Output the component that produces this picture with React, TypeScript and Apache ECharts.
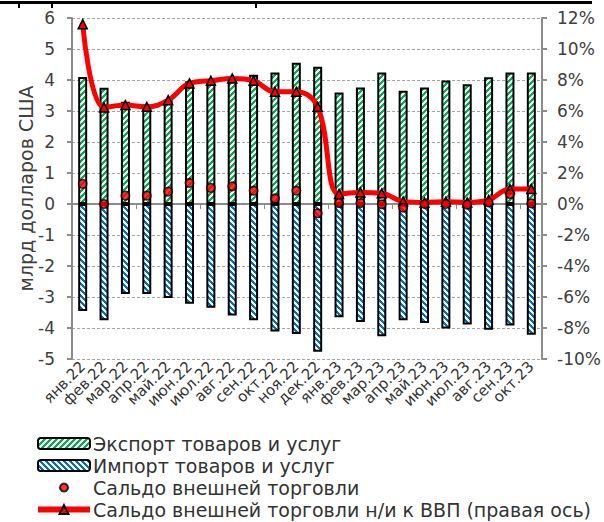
import React, { useEffect, useRef } from "react";
import * as echarts from "echarts";

const categories = [
  "янв.22", "фев.22", "мар.22", "апр.22", "май.22", "июн.22", "июл.22", "авг.22", "сен.22", "окт.22", "ноя.22", "дек.22",
  "янв.23", "фев.23", "мар.23", "апр.23", "май.23", "июн.23", "июл.23", "авг.23", "сен.23", "окт.23",
];
const exportVals = [4.1, 3.75, 3.3, 3.1, 3.37, 3.96, 4.03, 4.08, 4.17, 4.24, 4.56, 4.43, 3.6, 3.76, 4.24, 3.65, 3.76, 3.98, 3.86, 4.09, 4.24, 4.24];
const importVals = [-3.45, -3.75, -2.9, -2.9, -3.03, -3.22, -3.35, -3.6, -3.75, -4.11, -4.19, -4.77, -3.65, -3.81, -4.27, -3.75, -3.84, -4.02, -3.89, -4.06, -3.92, -4.22];
const balanceVals = [0.65, 0.0, 0.27, 0.27, 0.4, 0.68, 0.52, 0.57, 0.43, 0.18, 0.43, -0.3, 0.03, 0.03, -0.01, -0.12, 0.0, 0.0, -0.02, 0.05, 0.32, 0.02];
const gdpVals = [11.6, 6.23, 6.38, 6.27, 6.7, 7.78, 7.95, 8.1, 7.95, 7.24, 7.24, 6.27, 0.65, 0.75, 0.69, 0.17, 0.1, 0.15, 0.1, 0.26, 0.97, 0.97];

const seriesNames = [
  "Экспорт товаров и услуг",
  "Импорт товаров и услуг",
  "Сальдо внешней торговли",
  "Сальдо внешней торговли н/и к ВВП (правая ось)",
];
const leftAxisName = "млрд долларов США";

const FONT = "DejaVu Sans";
const GRAY = "#8c8c8c";
const TEXT = "#404040";

function stripePattern(color: string, forward: boolean): any {
  const size = 6;
  const c = document.createElement("canvas");
  c.width = size;
  c.height = size;
  const ctx = c.getContext("2d")!;
  ctx.fillStyle = "#ffffff";
  ctx.fillRect(0, 0, size, size);
  ctx.fillStyle = color;
  for (let x = 0; x < size; x++) {
    for (let y = 0; y < size; y++) {
      const k = forward ? (x + y) % size : (((x - y) % size) + size) % size;
      if (k < 3) ctx.fillRect(x, y, 1, 1);
    }
  }
  return { image: c, repeat: "repeat" };
}

export default function App() {
  const ref = useRef<HTMLDivElement>(null);
  useEffect(() => {
    if (!ref.current) return;
    const chart = echarts.init(ref.current, null, { renderer: "svg" });
    const greenFill = stripePattern("#00B050", true);
    const blueFill = stripePattern("#0070C0", false);
    const option: any = {
      animation: false,
      backgroundColor: "#ffffff",
      textStyle: { fontFamily: FONT },
      grid: { left: 72, right: 62, top: 18, bottom: 163, containLabel: false },
      legend: {
        orient: "vertical",
        left: 35,
        top: 434,
        height: 120,
        padding: 0,
        itemWidth: 52,
        itemHeight: 11,
        itemGap: 3,
        selectedMode: false,
        textStyle: { fontFamily: FONT, fontSize: 19, color: "#333", lineHeight: 18, padding: [0, 0, 0, -2] },
        data: [
          { name: seriesNames[0] },
          { name: seriesNames[1] },
          { name: seriesNames[2], icon: "path://M0,0M22,22M11,3A8,8,0,1,1,10.99,3Z" },
          { name: seriesNames[3], lineStyle: { width: 6, color: "#ff0000" } },
        ],
      },
      graphic: [
        { type: "rect", left: 0, top: 1, shape: { width: 592, height: 3 }, style: { fill: "#000" }, silent: true },
        { type: "rect", left: 18, top: 1, shape: { width: 2, height: 7 }, style: { fill: "#000" }, silent: true },
        { type: "rect", left: 51, top: 1, shape: { width: 2, height: 7 }, style: { fill: "#000" }, silent: true },
        { type: "rect", left: 255, top: 1, shape: { width: 2, height: 7 }, style: { fill: "#000" }, silent: true },
      ],
      xAxis: [
        {
          type: "category",
          data: categories,
          position: "bottom",
          axisLine: { show: false, onZero: false },
          axisTick: { show: false },
          axisLabel: { rotate: 45, fontFamily: FONT, fontSize: 15, color: "#333", margin: 5, interval: 0 },
          splitLine: {
            show: true,
            interval: (i: number) => i === 12,
            lineStyle: { color: "#a6a6a6", type: [3, 2], width: 1 },
          },
        },
        {
          type: "category",
          data: categories,
          position: "bottom",
          axisLine: { show: true, onZero: true, lineStyle: { color: GRAY, width: 2 } },
          axisTick: { show: true, length: 5, lineStyle: { color: GRAY, width: 1 } },
          axisLabel: { show: false },
          splitLine: { show: false },
        },
      ],
      yAxis: [
        {
          type: "value",
          min: -5,
          max: 6,
          interval: 1,
          name: leftAxisName,
          nameLocation: "middle",
          nameRotate: 90,
          nameGap: 37,
          nameMoveOverlap: false,
          nameTextStyle: { fontFamily: FONT, fontSize: 19, color: TEXT },
          axisLine: { show: true, lineStyle: { color: GRAY, width: 2 } },
          axisTick: { show: true, length: 5, lineStyle: { color: GRAY, width: 2 } },
          axisLabel: { fontFamily: FONT, fontSize: 17, color: TEXT, margin: 17 },
          splitLine: { show: true, lineStyle: { color: "#a6a6a6", type: [3, 2], width: 1 } },
        },
        {
          type: "value",
          min: -10,
          max: 12,
          interval: 2,
          position: "right",
          axisLine: { show: true, lineStyle: { color: GRAY, width: 2 } },
          axisTick: { show: true, length: 5, lineStyle: { color: GRAY, width: 2 } },
          axisLabel: { fontFamily: FONT, fontSize: 17, color: TEXT, margin: 15, formatter: "{value}%" },
          splitLine: { show: false },
        },
      ],
      series: [
        {
          name: seriesNames[0],
          type: "bar",
          stack: "trade",
          barWidth: 9,
          data: exportVals,
          itemStyle: { color: greenFill, borderColor: "#000", borderWidth: 2 },
          z: 2,
        },
        {
          name: seriesNames[1],
          type: "bar",
          stack: "trade",
          barWidth: 9,
          data: importVals,
          itemStyle: { color: blueFill, borderColor: "#000", borderWidth: 2 },
          z: 2,
        },
        {
          name: seriesNames[2],
          type: "scatter",
          data: balanceVals,
          symbol: "circle",
          symbolSize: 8.5,
          itemStyle: { color: "#ff0000", borderColor: "#000", borderWidth: 1.5 },
          z: 5,
        },
        {
          name: seriesNames[3],
          type: "line",
          yAxisIndex: 1,
          data: gdpVals,
          smooth: 0.4,
          symbol: "triangle",
          symbolSize: 9,
          lineStyle: { color: "#ff0000", width: 5 },
          itemStyle: { color: "#ff0000", borderColor: "#000", borderWidth: 1.5 },
          z: 4,
        },
      ],
    };
    chart.setOption(option);
    return () => chart.dispose();
  }, []);
  return <div ref={ref} style={{ position: "fixed", left: 0, top: 0, width: 604, height: 522 }} />;
}
